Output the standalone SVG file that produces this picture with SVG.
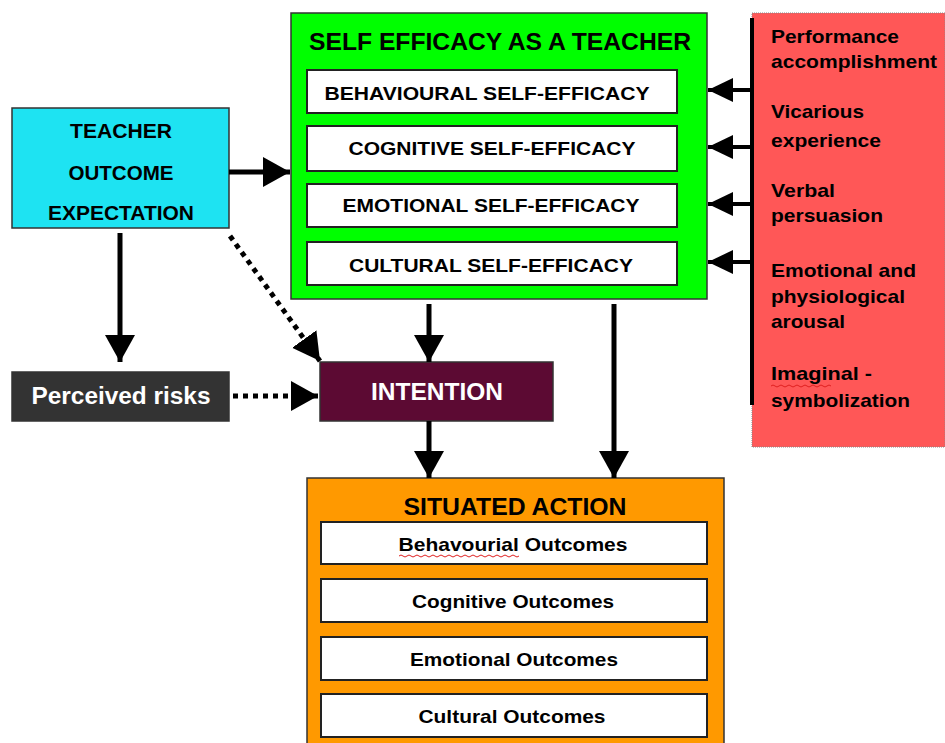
<svg xmlns="http://www.w3.org/2000/svg" width="945" height="743" viewBox="0 0 945 743">
  <defs>
    <marker id="head" markerUnits="userSpaceOnUse" markerWidth="28" markerHeight="32" refX="27" refY="15" orient="auto">
      <path d="M0,0 L27,15 L0,30 Z" fill="#000"/>
    </marker>
    <marker id="headSmall" markerUnits="userSpaceOnUse" markerWidth="26" markerHeight="26" refX="25" refY="12" orient="auto">
      <path d="M0,0 L25,12 L0,24 Z" fill="#000"/>
    </marker>
    <style>
      .box { stroke: #333; stroke-width: 1.5; }
      .inner { fill: #fff; stroke: #222; stroke-width: 2; }
      .t { font-family: "Liberation Sans", Arial, sans-serif; font-weight: bold; fill: #000; }
      .w { fill: #fff; }
      .solid { stroke: #000; stroke-width: 5; fill: none; }
      .dots { stroke: #000; stroke-width: 5; fill: none; stroke-dasharray: 5 5; }
      .src { stroke: #000; stroke-width: 4; fill: none; }
      .squig { stroke: #e02020; stroke-width: 1; fill: none; }
    </style>
  </defs>

  <rect width="945" height="743" fill="#fff"/>

  <!-- Teacher outcome expectation -->
  <g id="outcome-expectation">
    <rect class="box" x="12" y="108" width="217" height="120" fill="#1EE3F2"/>
    <text class="t" x="121" y="138" text-anchor="middle" font-size="20" textLength="102" lengthAdjust="spacingAndGlyphs">TEACHER</text>
    <text class="t" x="121" y="180" text-anchor="middle" font-size="20" textLength="105" lengthAdjust="spacingAndGlyphs">OUTCOME</text>
    <text class="t" x="121" y="220" text-anchor="middle" font-size="20" textLength="146" lengthAdjust="spacingAndGlyphs">EXPECTATION</text>
  </g>

  <!-- Self efficacy as a teacher -->
  <g id="self-efficacy">
    <rect class="box" x="291" y="13" width="416" height="286" fill="#00FF00" stroke-width="2"/>
    <text class="t" x="500" y="50" text-anchor="middle" font-size="24" textLength="382" lengthAdjust="spacingAndGlyphs">SELF EFFICACY AS A TEACHER</text>
    <rect class="inner" x="307" y="70" width="370" height="43"/>
    <text class="t" x="487" y="100" text-anchor="middle" font-size="19" textLength="325" lengthAdjust="spacingAndGlyphs">BEHAVIOURAL SELF-EFFICACY</text>
    <rect class="inner" x="307" y="126" width="370" height="45"/>
    <text class="t" x="492" y="155" text-anchor="middle" font-size="19" textLength="287" lengthAdjust="spacingAndGlyphs">COGNITIVE SELF-EFFICACY</text>
    <rect class="inner" x="307" y="184" width="370" height="43"/>
    <text class="t" x="491" y="212" text-anchor="middle" font-size="19" textLength="297" lengthAdjust="spacingAndGlyphs">EMOTIONAL SELF-EFFICACY</text>
    <rect class="inner" x="307" y="242" width="370" height="43"/>
    <text class="t" x="491" y="272" text-anchor="middle" font-size="19" textLength="284" lengthAdjust="spacingAndGlyphs">CULTURAL SELF-EFFICACY</text>
  </g>

  <!-- Sources of self efficacy -->
  <g id="sources">
    <rect x="752" y="13" width="193" height="434" fill="#FF5757" stroke="#888" stroke-width="1" stroke-dasharray="1 1"/>
    <g class="t" font-size="19">
      <text x="771" y="43" textLength="128" lengthAdjust="spacingAndGlyphs">Performance</text>
      <text x="771" y="68" textLength="166" lengthAdjust="spacingAndGlyphs">accomplishment</text>
      <text x="771" y="118" textLength="93" lengthAdjust="spacingAndGlyphs">Vicarious</text>
      <text x="771" y="147" textLength="110" lengthAdjust="spacingAndGlyphs">experience</text>
      <text x="771" y="197" textLength="64" lengthAdjust="spacingAndGlyphs">Verbal</text>
      <text x="771" y="222" textLength="112" lengthAdjust="spacingAndGlyphs">persuasion</text>
      <text x="771" y="277" textLength="145" lengthAdjust="spacingAndGlyphs">Emotional and</text>
      <text x="771" y="303" textLength="134" lengthAdjust="spacingAndGlyphs">physiological</text>
      <text x="771" y="328" textLength="74" lengthAdjust="spacingAndGlyphs">arousal</text>
      <text x="771" y="380" textLength="101" lengthAdjust="spacingAndGlyphs">Imaginal -</text>
      <text x="771" y="407" textLength="139" lengthAdjust="spacingAndGlyphs">symbolization</text>
    </g>
    <path class="squig" d="M771,386 q2,-2 4,0 t4,0 t4,0 t4,0 t4,0 t4,0 t4,0 t4,0 t4,0 t4,0 t4,0 t4,0 t4,0 t4,0 t4,0"/>
  </g>

  <!-- Perceived risks -->
  <g id="perceived-risks">
    <rect class="box" x="12" y="372" width="217" height="49" fill="#333"/>
    <text class="t w" x="121" y="404" text-anchor="middle" font-size="23" textLength="179" lengthAdjust="spacingAndGlyphs">Perceived risks</text>
  </g>

  <!-- Intention -->
  <g id="intention">
    <rect class="box" x="320" y="362" width="233" height="59" fill="#5C0A33"/>
    <text class="t w" x="437" y="400" text-anchor="middle" font-size="24" textLength="132" lengthAdjust="spacingAndGlyphs">INTENTION</text>
  </g>

  <!-- Situated action -->
  <g id="situated-action">
    <rect class="box" x="307" y="478" width="417" height="270" fill="#FF9900" stroke-width="2"/>
    <text class="t" x="515" y="515" text-anchor="middle" font-size="23" textLength="223" lengthAdjust="spacingAndGlyphs">SITUATED ACTION</text>
    <rect class="inner" x="321" y="522" width="386" height="42"/>
    <text class="t" x="513" y="551" text-anchor="middle" font-size="19" textLength="229" lengthAdjust="spacingAndGlyphs">Behavourial Outcomes</text>
    <path class="squig" d="M399,556 q2,-2 4,0 t4,0 t4,0 t4,0 t4,0 t4,0 t4,0 t4,0 t4,0 t4,0 t4,0 t4,0 t4,0 t4,0 t4,0 t4,0 t4,0 t4,0 t4,0 t4,0 t4,0 t4,0 t4,0 t4,0 t4,0 t4,0 t4,0 t4,0 t4,0 t4,0"/>
    <rect class="inner" x="321" y="579" width="386" height="43"/>
    <text class="t" x="513" y="608" text-anchor="middle" font-size="19" textLength="202" lengthAdjust="spacingAndGlyphs">Cognitive Outcomes</text>
    <rect class="inner" x="321" y="637" width="386" height="43"/>
    <text class="t" x="514" y="666" text-anchor="middle" font-size="19" textLength="208" lengthAdjust="spacingAndGlyphs">Emotional Outcomes</text>
    <rect class="inner" x="321" y="694" width="386" height="43"/>
    <text class="t" x="512" y="723" text-anchor="middle" font-size="19" textLength="187" lengthAdjust="spacingAndGlyphs">Cultural Outcomes</text>
  </g>

  <!-- Connectors -->
  <g id="connectors">
    <line class="solid" x1="229" y1="172" x2="290" y2="172" marker-end="url(#head)"/>
    <line class="solid" x1="120" y1="233" x2="120" y2="362" marker-end="url(#head)"/>
    <line class="dots" x1="230" y1="236" x2="320" y2="361" marker-end="url(#head)"/>
    <line class="dots" x1="233" y1="396" x2="318" y2="396" marker-end="url(#head)"/>
    <line class="solid" x1="429" y1="304" x2="429" y2="362" marker-end="url(#head)"/>
    <line class="solid" x1="429" y1="421" x2="429" y2="478" marker-end="url(#head)"/>
    <line class="solid" x1="614" y1="304" x2="614" y2="478" marker-end="url(#head)"/>
    <line class="src" x1="752" y1="18" x2="752" y2="405"/>
    <line class="src" x1="752" y1="90" x2="708" y2="90" marker-end="url(#headSmall)"/>
    <line class="src" x1="752" y1="147" x2="708" y2="147" marker-end="url(#headSmall)"/>
    <line class="src" x1="752" y1="204" x2="708" y2="204" marker-end="url(#headSmall)"/>
    <line class="src" x1="752" y1="262" x2="708" y2="262" marker-end="url(#headSmall)"/>
  </g>
</svg>
